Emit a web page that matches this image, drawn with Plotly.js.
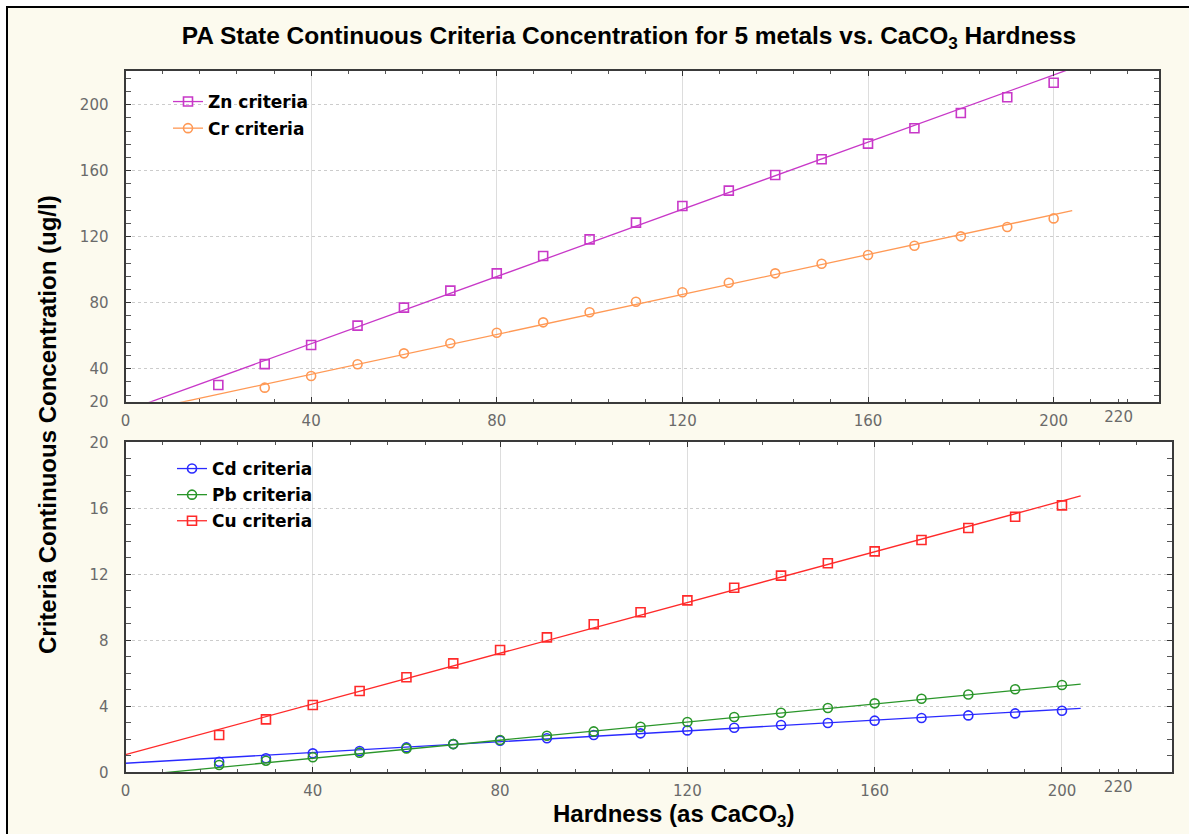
<!DOCTYPE html>
<html><head><meta charset="utf-8">
<script src="https://cdn.plot.ly/plotly-3.0.1.min.js"></script>
<style>
html,body{margin:0;padding:0;background:#ffffff;overflow:hidden;}
#frame{position:absolute;left:6px;top:6px;border-top:2px solid #000;border-left:2px solid #000;width:1183px;height:828px;background:#fcfaee;}
#chart{width:1181px;height:826px;}
</style></head><body>
<div id="frame"><div id="chart"></div></div>
<script>
// ---------- data ----------
const hardness = [20,30,40,50,60,70,80,90,100,110,120,130,140,150,160,170,180,190,200];
const znCriteria = [30.1,42.8,54.4,66.1,77.0,87.3,97.8,108.3,118.4,128.5,138.6,147.9,157.4,166.9,176.4,185.7,195.0,204.5,213.3];
const crCriteria = [null,28.5,35.6,42.7,49.3,55.4,61.8,68.1,74.2,80.6,86.3,92.1,97.8,103.6,108.9,114.5,120.2,125.9,131.1];
const cdCriteria = [0.64,0.85,1.15,1.29,1.51,1.71,1.92,2.06,2.26,2.36,2.54,2.70,2.87,2.99,3.13,3.29,3.45,3.57,3.73];
const pbCriteria = [0.44,0.70,0.91,1.19,1.45,1.71,1.96,2.22,2.48,2.76,3.05,3.35,3.61,3.90,4.18,4.46,4.72,5.03,5.29];
const cuCriteria = [2.26,3.21,4.08,4.93,5.76,6.60,7.41,8.18,8.97,9.70,10.42,11.19,11.92,12.67,13.39,14.08,14.81,15.49,16.18];

// fitted straight lines drawn in the reference (start / end)
const fitX  = [0, 204];
const znFit = [14.4, 222.1];
const crFit = [12.4, 135.8];
const cdFit = [0.55, 3.88];
const pbFit = [-0.25, 5.35];
const cuFit = [1.07, 16.75];

// tick labels
const xTickVals = [0,40,80,120,160,200];
const xTickText = ['0','40','80','120','160','200'];
const topEndTickVals = [214];        // where the reference prints its last label
const botEndTickVals = [212];
const xEndTickText = ['220'];
const topYTickVals = [20,40,80,120,160,200];
const botYTickVals = [0,4,8,12,16,20];

const names = {zn:'Zn criteria', cr:'Cr criteria', cd:'Cd criteria', pb:'Pb criteria', cu:'Cu criteria'};
const colors = {zn:'#c838c8', cr:'#ff9955', cd:'#2a2aff', pb:'#2a962a', cu:'#ff2a2a'};

// ---------- geometry helpers (page pixels -> paper fractions) ----------
const W = 1181, H = 826, OX = 8, OY = 8;
const px = p => (p - OX) / W;
const py = p => 1 - (p - OY) / H;

const tickFont = {family:'DejaVu Sans', size:15, color:'#6a6a6a'};
const lineCol = '#3a3a3a';

function xAxis(dom, anchor, range){
  return {domain:dom, anchor:anchor, range:range, tickmode:'array', tickvals:xTickVals, ticktext:xTickText,
    ticks:'inside', ticklen:5, tickwidth:1, tickcolor:'#333', tickfont:tickFont, ticklabelstandoff:4,
    minor:{tickmode:'linear', tick0:0, dtick:8, ticks:'inside', ticklen:3, tickcolor:'#555', showgrid:false},
    showgrid:true, gridcolor:'#dddddd', gridwidth:1, zeroline:false,
    showline:true, linecolor:lineCol, linewidth:2, mirror:'allticks', fixedrange:true};
}
function yAxis(dom, anchor, range, vals, minorStep){
  return {domain:dom, anchor:anchor, range:range, tickmode:'array', tickvals:vals,
    ticks:'inside', ticklen:5, tickwidth:1, tickcolor:'#333', tickfont:tickFont, ticklabelstandoff:12,
    minor:{tickmode:'linear', tick0:0, dtick:minorStep, ticks:'inside', ticklen:3, tickcolor:'#555', showgrid:false},
    showgrid:true, gridcolor:'#cccccc', gridwidth:1, griddash:'dot', zeroline:false,
    showline:true, linecolor:lineCol, linewidth:2, mirror:'allticks', fixedrange:true};
}
function endAxis(over, anchor, range, vals){
  return {overlaying:over, anchor:anchor, range:range, tickmode:'array', tickvals:vals, ticktext:xEndTickText,
    ticks:'inside', ticklen:3, tickwidth:1, tickcolor:'#555', tickfont:tickFont, ticklabelstandoff:4,
    showgrid:false, zeroline:false, showline:false, side:'bottom', fixedrange:true};
}

const topX = [px(125.5), px(1159)], topY = [py(401.7), py(70.7)];
const botX = [px(125.5), px(1172)], botY = [py(772.3), py(441.7)];
const topXRange = [0, 222.7], botXRange = [0, 223.5];

function fitTrace(key, ys, xa, ya){
  return {x:fitX, y:ys, xaxis:xa, yaxis:ya, mode:'lines', line:{color:colors[key], width:1.3},
    showlegend:false, hoverinfo:'skip', cliponaxis:true};
}
function ptTrace(key, ys, sym, xa, ya){
  return {x:hardness, y:ys, xaxis:xa, yaxis:ya, mode:'markers', name:names[key],
    marker:{symbol:sym, size:9, color:colors[key], line:{color:colors[key], width:1.6}},
    showlegend:false, cliponaxis:true};
}
function legTrace(key, sym, xa, ya, leg){
  return {x:[null], y:[null], xaxis:xa, yaxis:ya, mode:'lines+markers', name:names[key], legend:leg, legendgroup:key,
    line:{color:colors[key], width:1.3}, marker:{symbol:sym, size:9, color:colors[key], line:{color:colors[key], width:1.6}}};
}

const traces = [
  fitTrace('zn', znFit, 'x', 'y'), ptTrace('zn', znCriteria, 'square-open', 'x', 'y'),
  fitTrace('cr', crFit, 'x', 'y'), ptTrace('cr', crCriteria, 'circle-open', 'x', 'y'),
  fitTrace('cd', cdFit, 'x2', 'y2'), ptTrace('cd', cdCriteria, 'circle-open', 'x2', 'y2'),
  fitTrace('pb', pbFit, 'x2', 'y2'), ptTrace('pb', pbCriteria, 'circle-open', 'x2', 'y2'),
  fitTrace('cu', cuFit, 'x2', 'y2'), ptTrace('cu', cuCriteria, 'square-open', 'x2', 'y2'),
  legTrace('zn', 'square-open', 'x', 'y', 'legend'),
  legTrace('cr', 'circle-open', 'x', 'y', 'legend'),
  legTrace('cd', 'circle-open', 'x2', 'y2', 'legend2'),
  legTrace('pb', 'circle-open', 'x2', 'y2', 'legend2'),
  legTrace('cu', 'square-open', 'x2', 'y2', 'legend2'),
  {x:[], y:[], xaxis:'x3', yaxis:'y', mode:'markers', showlegend:false, hoverinfo:'skip'},
  {x:[], y:[], xaxis:'x4', yaxis:'y2', mode:'markers', showlegend:false, hoverinfo:'skip'}
];

const legFont = {family:'DejaVu Sans', size:17, color:'#000000', weight:'bold'};
const titleFont = {family:'Liberation Sans', size:24, color:'#000'};
const layout = {
  width:W, height:H, margin:{l:0, r:0, t:0, b:0, pad:0},
  paper_bgcolor:'#fcfaee', plot_bgcolor:'#ffffff',
  title:{text:'<b>PA State Continuous Criteria Concentration for 5 metals vs. CaCO<sub>3</sub> Hardness</b>',
    font:{family:'Liberation Sans', size:24.5, color:'#000'}, x:px(629), xanchor:'center', y:py(35), yanchor:'middle'},
  xaxis: xAxis(topX, 'y', topXRange),
  yaxis: yAxis(topY, 'x', [20, 220.6], topYTickVals, 8),
  xaxis2: xAxis(botX, 'y2', botXRange),
  yaxis2: yAxis(botY, 'x2', [0, 20.04], botYTickVals, 1),
  xaxis3: endAxis('x', 'y', topXRange, topEndTickVals),
  xaxis4: endAxis('x2', 'y2', botXRange, botEndTickVals),
  legend:{x:px(168), y:py(84), xanchor:'left', yanchor:'top', bgcolor:'rgba(0,0,0,0)', borderwidth:0,
    font:legFont, traceorder:'grouped', tracegroupgap:1.5},
  legend2:{x:px(172), y:py(451), xanchor:'left', yanchor:'top', bgcolor:'rgba(0,0,0,0)', borderwidth:0,
    font:legFont, traceorder:'grouped', tracegroupgap:1},
  annotations:[
    {text:'<b>Criteria Continuous Concentration (ug/l)</b>', textangle:-90, xref:'paper', yref:'paper',
     x:px(47), y:py(425), xanchor:'center', yanchor:'middle', showarrow:false, font:titleFont},
    {text:'<b>Hardness (as CaCO<sub>3</sub>)</b>', xref:'paper', yref:'paper',
     x:px(673), y:py(815), xanchor:'center', yanchor:'middle', showarrow:false, font:titleFont}
  ],
  showlegend:true, hovermode:false
};

Plotly.newPlot('chart', traces, layout, {displayModeBar:false, staticPlot:true});
</script>
</body></html>
